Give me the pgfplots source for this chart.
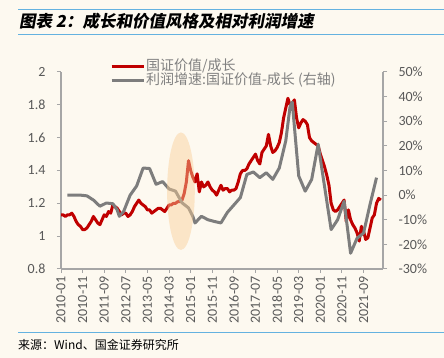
\documentclass[border=0pt]{standalone}
\usepackage{pgfplots}
\pgfplotsset{compat=1.18}
\usepackage{fontspec}
\setmainfont{Carlito}
\newfontfamily\cjk{Noto Sans CJK SC}
\newfontfamily\cjktitle{Noto Sans CJK SC}[FakeSlant=0.18]
\definecolor{bg}{RGB}{253,249,240}
\definecolor{bluel}{RGB}{100,178,224}
\definecolor{redl}{RGB}{192,0,0}
\definecolor{grayl}{RGB}{125,125,125}
\definecolor{axisg}{RGB}{166,166,166}
\definecolor{tickt}{RGB}{89,89,89}
\definecolor{legt}{RGB}{128,128,128}
\definecolor{peach}{RGB}{250,205,150}
\begin{document}
\begin{tikzpicture}
\path[use as bounding box] (0,0) rectangle (444pt,358pt);
\fill[bg] (0,0) rectangle (444pt,358pt);
\draw[bluel, line width=1pt] (18pt,348.7pt) -- (444pt,348.7pt);
\draw[bluel, line width=1pt] (18pt,323.7pt) -- (444pt,323.7pt);
\draw[bluel, line width=1pt] (18pt,25pt) -- (444pt,25pt);
\node[anchor=west, inner sep=0pt] at (19pt,337pt) {\cjktitle\bfseries\fontsize{16.5}{16.5}\selectfont 图表 2：成长和价值风格及相对利润增速};
\node[anchor=west, inner sep=0pt] at (18pt,13pt) {\cjk\fontsize{12}{12}\selectfont 来源：Wind、国金证券研究所};
\pgfplotsset{
  every axis/.append style={
    at={(61pt,89pt)}, anchor=south west,
    scale only axis, width=322pt, height=197pt,
    xmin=0, xmax=149,
    axis line style={draw=axisg, line width=1.2pt},
    tick style={draw=axisg, line width=1pt},
    major tick length=4pt, tick align=outside,
    ticklabel style={font=\fontsize{14}{14}\selectfont, text=tickt},
    line join=round,
  }
}
\begin{axis}[
  axis x line*=bottom, axis y line*=left,
  ymin=0.8, ymax=2,
  ytick={0.8,1,1.2,1.4,1.6,1.8,2},
  yticklabels={0.8,1,1.2,1.4,1.6,1.8,2},
  xtick={0,10,...,140},
  xticklabels={2010-01,2010-11,2011-09,2012-07,2013-05,2014-03,2015-01,2015-11,2016-09,2017-07,2018-05,2019-03,2020-01,2020-11,2021-09},
  xticklabel style={rotate=90, anchor=east},
  yticklabel style={xshift=-8pt},
]
\addplot[redl, line width=3pt, no marks] table {
0 1.13
1 1.13
2 1.12
3 1.13
4 1.13
5 1.14
6 1.12
7 1.09
8 1.07
9 1.06
10 1.04
11 1.04
12 1.05
13 1.07
14 1.09
15 1.12
16 1.10
17 1.08
18 1.07
19 1.10
20 1.13
21 1.12
22 1.15
23 1.14
24 1.19
25 1.18
26 1.17
27 1.15
28 1.13
29 1.14
30 1.14
31 1.12
32 1.13
33 1.15
34 1.18
35 1.20
36 1.22
37 1.20
38 1.19
39 1.18
40 1.16
41 1.16
42 1.14
43 1.15
44 1.16
45 1.17
46 1.17
47 1.16
48 1.15
49 1.17
50 1.19
51 1.19
52 1.20
53 1.20
54 1.21
55 1.21
56 1.22
57 1.26
58 1.33
59 1.46
60 1.40
61 1.36
62 1.33
63 1.38
64 1.27
65 1.33
66 1.30
67 1.31
68 1.33
69 1.30
70 1.28
71 1.27
72 1.25
73 1.28
74 1.31
75 1.28
76 1.29
77 1.29
78 1.27
79 1.28
80 1.28
81 1.29
82 1.33
83 1.38
84 1.40
85 1.40
86 1.41
87 1.44
88 1.46
89 1.48
90 1.50
91 1.46
92 1.44
93 1.51
94 1.53
95 1.55
96 1.62
97 1.55
98 1.51
99 1.52
100 1.54
101 1.57
102 1.63
103 1.72
104 1.78
105 1.84
106 1.80
107 1.81
108 1.83
109 1.72
110 1.66
111 1.69
112 1.71
113 1.70
114 1.68
115 1.60
116 1.58
117 1.57
118 1.56
119 1.55
120 1.50
121 1.46
122 1.42
123 1.37
124 1.31
125 1.20
126 1.16
127 1.15
128 1.16
129 1.18
130 1.20
131 1.22
132 1.09
133 1.16
134 1.10
135 1.07
136 1.05
137 1.02
138 0.97
139 1.06
140 1.03
141 0.98
142 0.99
143 1.05
144 1.11
145 1.13
146 1.20
147 1.23
148 1.22
};
\end{axis}
\begin{axis}[
  axis x line=none, axis y line*=right,
  ymin=-30, ymax=50,
  ytick={-30,-20,-10,0,10,20,30,40,50},
  yticklabels={-30\%,-20\%,-10\%,0\%,10\%,20\%,30\%,40\%,50\%},
  yticklabel style={xshift=8pt},
  legend style={draw=none, fill=none, at={(0.152,1.066)}, anchor=north west,
    inner sep=0pt, row sep=0.5pt,
    nodes={inner sep=1pt, text height=10pt, text depth=2pt, anchor=west, text=legt, font=\cjk\fontsize{14}{14}\selectfont}},
  legend cell align=left,
  legend image code/.code={\draw[#1] (0pt,0pt) -- (32pt,0pt);},
]
\addlegendimage{redl, line width=3pt}
\addlegendentry{国证价值/成长}
\addplot[grayl, line width=3pt, no marks] table {
3 0
6 0
9 0
12 -0.3
15 -2
18 -4.5
21 -3.2
24 -3.5
26 -6
27 -8.6
29 -6.6
32 0
35 3.7
38 11
41 10.8
44 4.4
47 5.5
50 2.5
53 1.6
56 -3.1
59 -5.2
61 -8.6
62 -11.3
65 -8.6
68 -10
71 -10.7
74 -11.3
77 -7
80 -4
83 -1
86 8.4
89 9.4
92 7.1
95 9.1
98 6.4
101 11
104 22
106 36
107 37.8
110 7.8
113 1.6
116 6.4
119 20.7
121 9
125 -14
128 -10
131 -2.5
134 -23.6
137 -17.5
140 -15.4
143 -3.8
146 7.1
};
\addlegendentry{利润增速:国证价值-成长 (右轴)}
\fill[peach, opacity=0.45] (axis cs:55.5,1.6) ellipse [x radius=6.4, y radius=23.85];
\end{axis}
\end{tikzpicture}
\end{document}
